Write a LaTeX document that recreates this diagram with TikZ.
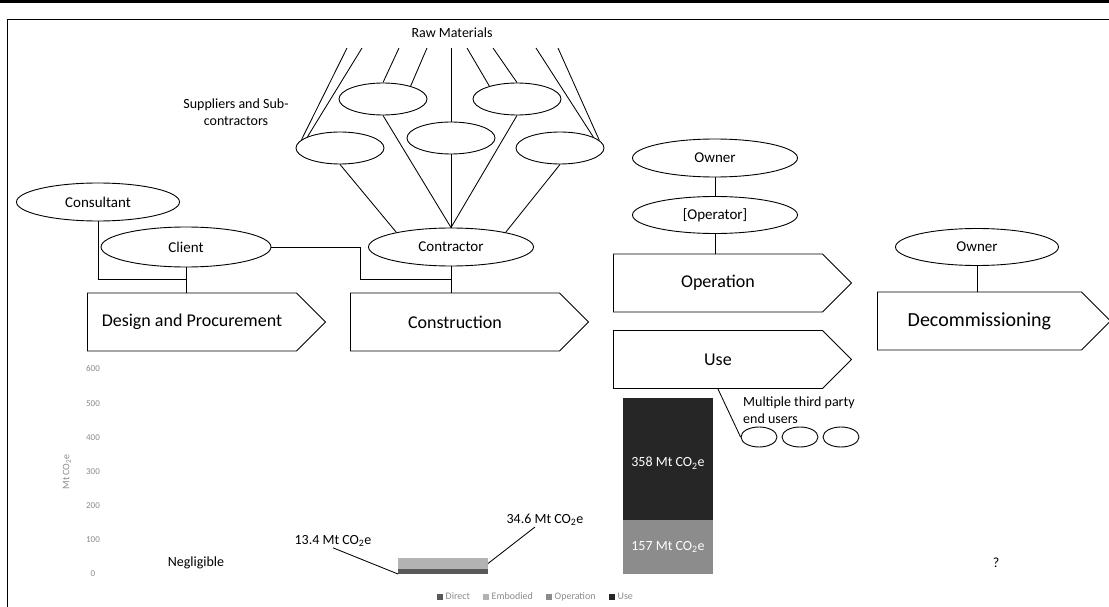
\documentclass[tikz,border=0pt]{standalone}
\usepackage{fontspec}
\setmainfont{Carlito}
\usetikzlibrary{shapes.geometric, shapes.symbols, positioning}

\definecolor{directgray}{HTML}{595959}
\definecolor{embgray}{HTML}{B3B3B3}
\definecolor{opgray}{HTML}{8C8C8C}
\definecolor{usegray}{HTML}{262626}
\definecolor{axisgray}{HTML}{8C8C8C}

\tikzset{
  party/.style={draw, ellipse, line width=0.9pt, minimum width=165pt, minimum height=38pt, inner sep=0pt, font=\fontsize{15}{18}\selectfont},
  supplier/.style={draw, ellipse, line width=0.9pt, minimum width=88pt, minimum height=32pt, inner sep=0pt},
  enduser/.style={draw, ellipse, line width=0.9pt, minimum width=36pt, minimum height=20pt, inner sep=0pt},
  stage/.style={draw, signal, signal to=east, signal pointer angle=90, line width=0.9pt, minimum width=238pt, minimum height=58pt, inner sep=0pt, font=\fontsize{18}{21}\selectfont},
  link/.style={line width=0.85pt},
  plain/.style={font=\fontsize{14}{17}\selectfont},
  axislbl/.style={text=axisgray, font=\fontsize{9}{11}\selectfont},
  bar/.style={minimum width=90pt, inner sep=0pt, outer sep=0pt, anchor=south west},
  legsq/.style={minimum size=5.5pt, inner sep=0pt},
  legtxt/.style={text=axisgray, inner sep=0pt, text height=7pt, text depth=2pt, font=\fontsize{10}{12}\selectfont}
}

\begin{document}
\begin{tikzpicture}[x=1pt, y=-1pt]
\useasboundingbox[fill=white] (0,0) rectangle (1109,607);
% page rules
\draw[line width=2.5pt] (0,1.5) -- (1109,1.5);
\draw[line width=0.8pt] (7.5,607) -- (7.5,19.5) -- (1109,19.5);

% supply chain
\node[plain] (rawmat) at (452,33) {Raw Materials};
\node[supplier] (supA) at (383,99) {};
\node[supplier] (supB) at (517,99) {};
\node[supplier] (supC) at (340,148) {};
\node[supplier] (supD) at (451,138) {};
\node[supplier] (supE) at (560,148) {};
\node[plain, align=center] (suplbl) at (236,112) {Suppliers and Sub-\\contractors};
\foreach \i/\x/\dst in {1/347/supC.168, 2/362/supC.161, 3/399/supA.north, 4/427/supA.25,
    5/451/supD.north, 6/467/supB.155, 7/493/supB.north, 8/536/supE.18, 9/558/supE.11} {
  \coordinate (raw\i) at (\x,48);
  \draw[link] (raw\i) -- (\dst);
}

% stakeholders
\node[party, minimum width=163pt] (consultant) at (98,202) {Consultant};
\node[party, minimum width=170pt, minimum height=40pt] (client) at (186,247) {Client};
\node[party] (contractor) at (451,247) {Contractor};
\node[party] (ownerop) at (715,158) {Owner};
\node[party, minimum height=37pt] (operator) at (715,215) {[Operator]};
\node[party, minimum width=163pt, minimum height=37pt] (ownerdc) at (977,247) {Owner};

\foreach \s/\d in {supC.south/contractor.165, supA.south/contractor.north,
    supD.south/contractor.north, supB.south/contractor.north, supE.south/contractor.15}
  \draw[link] (\s) -- (\d);

% stages
\node[stage, anchor=west] (design) at (87,322) {Design and Procurement};
\node[stage, anchor=west] (constr) at (350,322) {Construction};
\node[stage, anchor=west] (oper) at (613,283) {Operation};
\node[stage, anchor=west] (use) at (613,359.5) {Use};
\node[stage, anchor=west, minimum width=233pt, font=\fontsize{20}{24}\selectfont] (decom) at (877,321) {Decommissioning};

\coordinate (jn) at (360,279);
\draw[link] (consultant.south) |- (client.south |- jn);
\draw[link] (client.south) -- (client.south |- design.north);
\draw[link] (client.east) -| (jn) -- (jn -| contractor.south);
\draw[link] (contractor.south) -- (contractor.south |- constr.north);
\draw[link] (ownerop.south) -- (operator.north);
\draw[link] (operator.south) -- (operator.south |- oper.north);
\draw[link] (ownerdc.south) -- (ownerdc.south |- decom.north);

% end users
\node[plain, align=left, anchor=north west, inner sep=0pt] (endlbl) at (743,397) {Multiple third party\\end users};
\node[enduser] (eu1) at (759,437) {};
\node[enduser] (eu2) at (800,437) {};
\node[enduser] (eu3) at (841,437) {};
\draw[link] (use.south) -- (eu1.west);

% emissions chart
\foreach \v in {0,100,...,600}
  \node[axislbl] at (93,574-0.3417*\v) {\v};
\node[axislbl, rotate=90, font=\fontsize{10}{12}\selectfont] (ylbl) at (67,472) {Mt CO\textsubscript{2}e};

\node[bar, fill=directgray, minimum height=4.6pt] (dirbar) at (398,574) {};
\node[bar, fill=embgray, minimum height=11.8pt] (embbar) at (dirbar.north west) {};
\node[bar, fill=opgray, minimum height=53.6pt] (opbar) at (623,574) {};
\node[bar, fill=usegray, minimum height=122.3pt] (usebar) at (opbar.north west) {};

\node[plain, white] (usev) at ([yshift=-4pt]usebar.center) {358 Mt CO\textsubscript{2}e};
\node[plain, white] (opv) at (opbar.center) {157 Mt CO\textsubscript{2}e};
\node[plain, inner sep=1pt] (lblA) at (333,541) {13.4 Mt CO\textsubscript{2}e};
\node[plain, inner sep=1pt] (lblB) at (545,520) {34.6 Mt CO\textsubscript{2}e};
\draw[link] (lblA.south) -- (dirbar.south west);
\draw[link] ([xshift=-10pt]lblB.south) -- (embbar.east);

\node[plain] (negl) at (196,563) {Negligible};
\node[plain] (unkn) at (996,563) {?};

% legend
\node[legsq, fill=directgray] (lgA) at (440,597) {};
\node[legtxt, right=2.5pt of lgA] {Direct};
\node[legsq, fill=embgray] (lgB) at (486,597) {};
\node[legtxt, right=2.5pt of lgB] {Embodied};
\node[legsq, fill=opgray] (lgC) at (549,597) {};
\node[legtxt, right=2.5pt of lgC] {Operation};
\node[legsq, fill=usegray] (lgD) at (612,597) {};
\node[legtxt, right=2.5pt of lgD] {Use};
\end{tikzpicture}
\end{document}
